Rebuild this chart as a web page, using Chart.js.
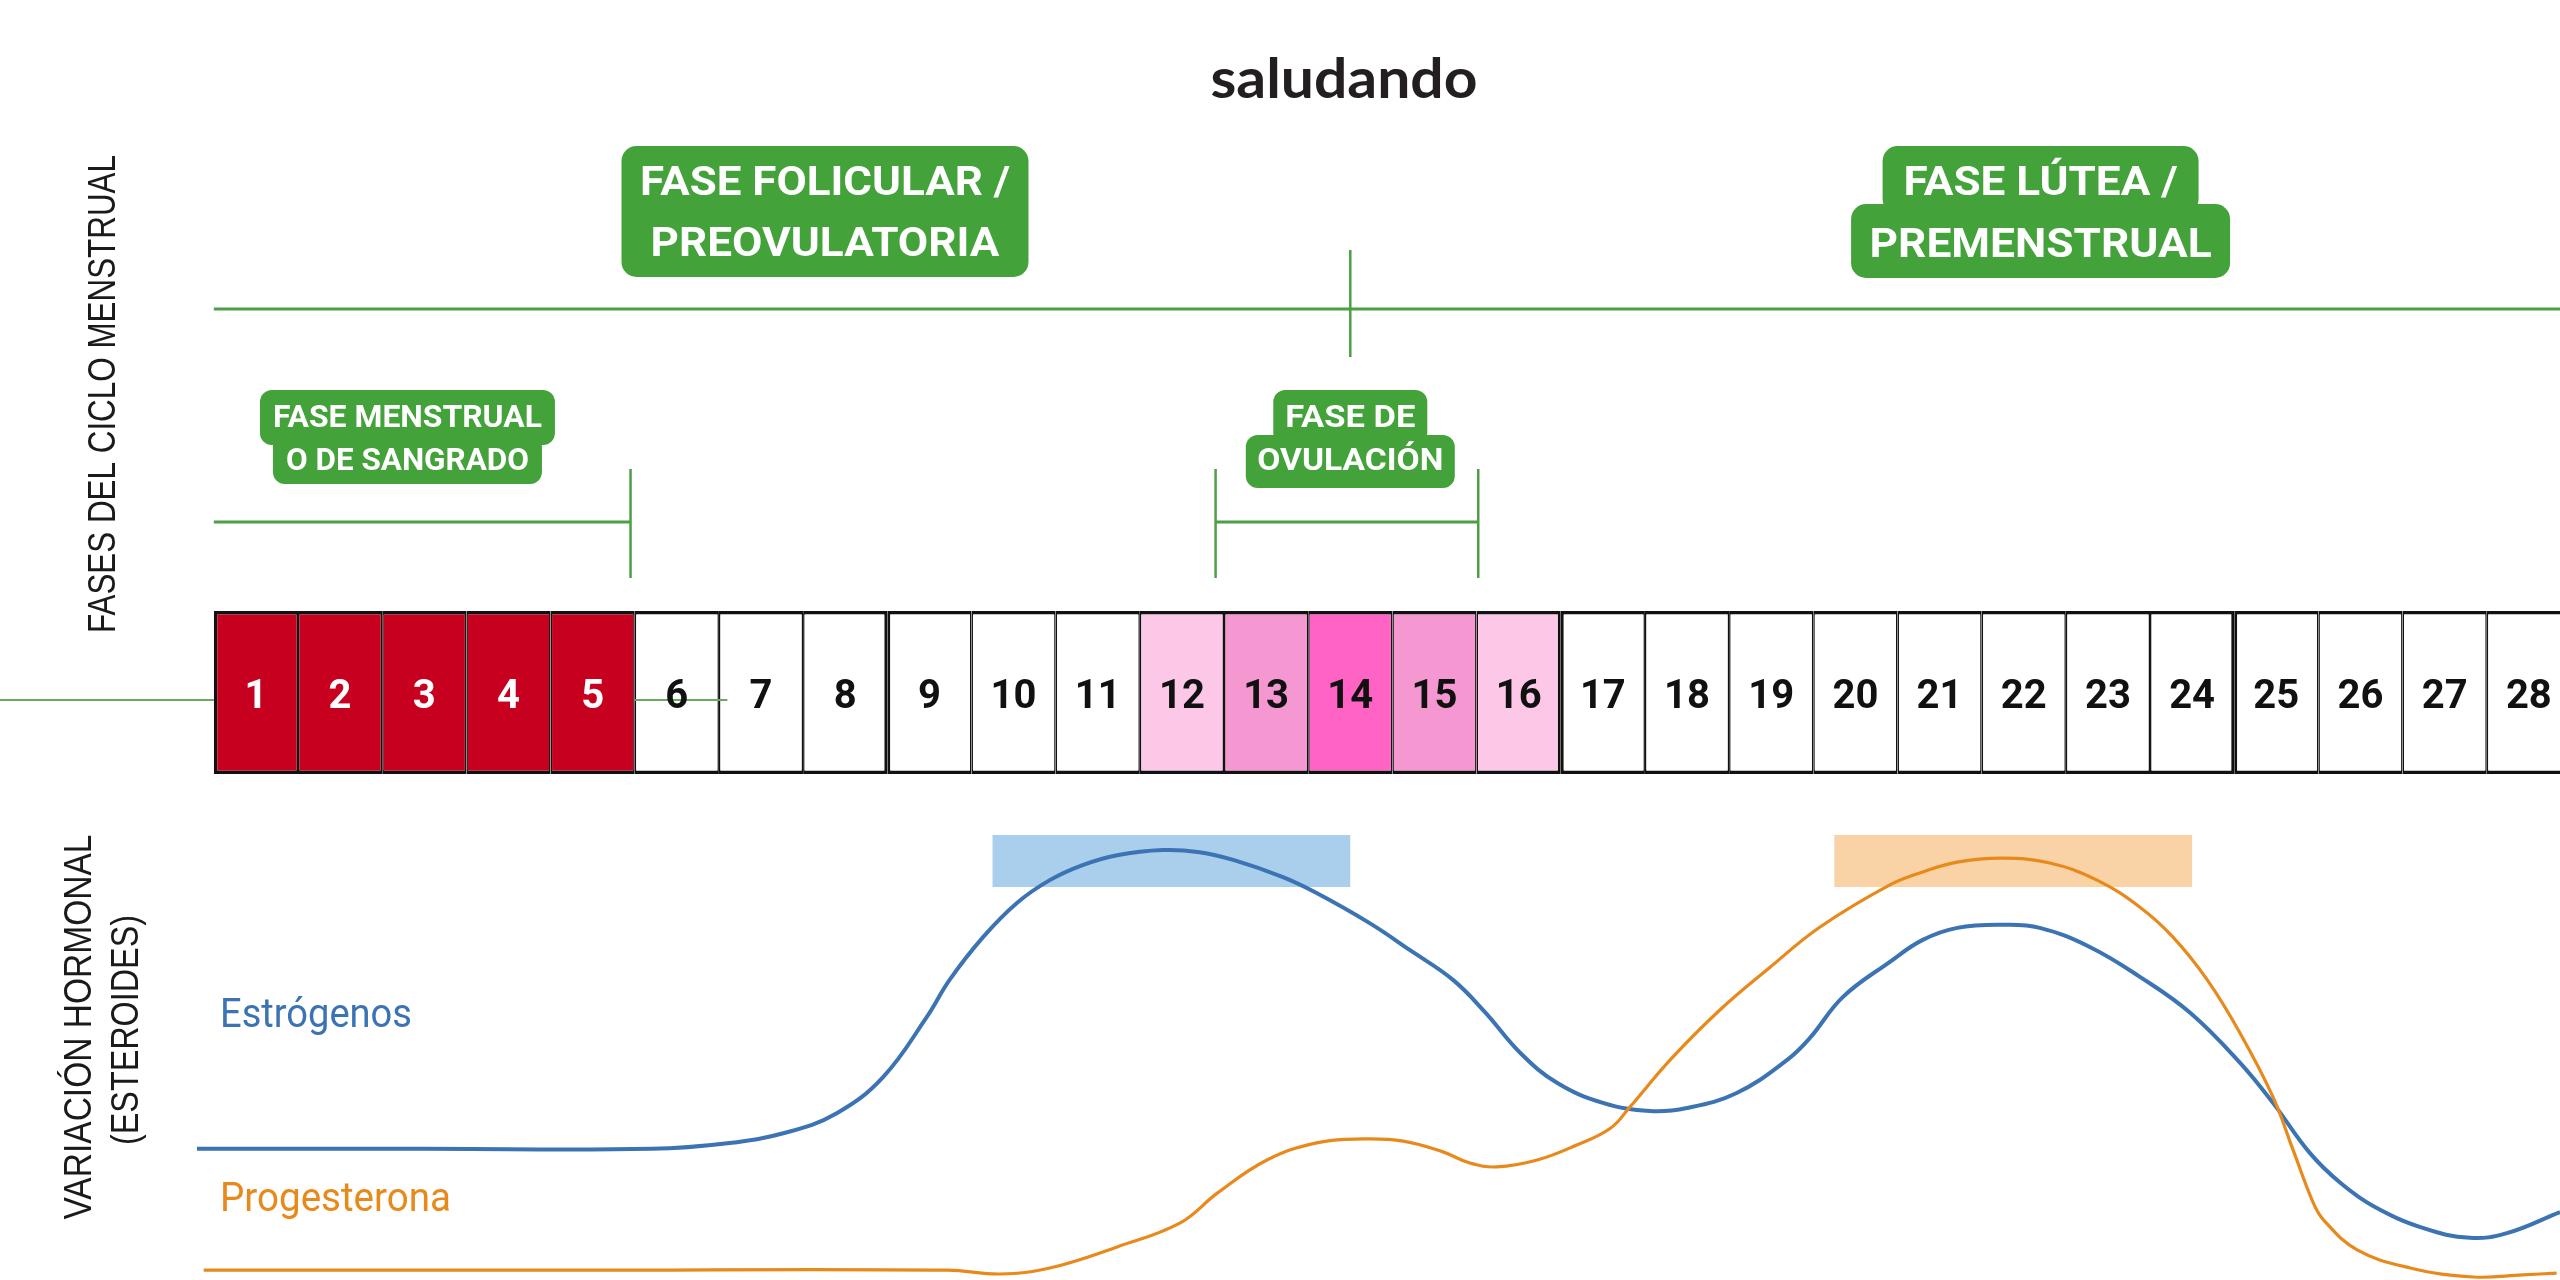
<!DOCTYPE html>
<html><head><meta charset="utf-8">
<script src="https://cdn.jsdelivr.net/npm/chart.js@4.4.1/dist/chart.umd.min.js"></script>
<style>html,body{margin:0;padding:0;background:#fff;overflow:hidden}#wrap{width:2560px;height:1280px;position:relative}</style>
</head><body><div id="wrap"><canvas id="c"></canvas></div>
<script>
// ---------- data ----------
const dayNumbers = [1,2,3,4,5,6,7,8,9,10,11,12,13,14,15,16,17,18,19,20,21,22,23,24,25,26,27,28];
const dayLabels = dayNumbers.map(String);
const dayFill = ['#c8001f','#c8001f','#c8001f','#c8001f','#c8001f','#ffffff','#ffffff','#ffffff','#ffffff','#ffffff','#ffffff',
  '#fdc8e8','#f598d2','#ff63c3','#f598d2','#fdc8e8','#ffffff','#ffffff','#ffffff','#ffffff','#ffffff','#ffffff','#ffffff','#ffffff','#ffffff','#ffffff','#ffffff','#ffffff'];
const dayTextColor = dayNumbers.map(d => d <= 5 ? '#ffffff' : '#111111');
const weekStartDays = [9, 17, 25];

const estrogenDay = [0.3, 3.0, 5.7, 6.6, 7.3, 7.9, 8.45, 8.97, 9.24, 9.64, 10.04, 10.43, 10.82, 11.23, 11.77, 12.21, 12.61, 13.2, 13.6, 14.23, 14.71, 15.22, 15.6, 16.02, 16.46, 17.0, 17.56, 18.0, 18.59, 19.19, 19.46, 19.85, 20.41, 20.8, 21.21, 21.75, 22.19, 22.79, 23.38, 23.98, 24.57, 24.96, 25.4, 25.76, 26.15, 26.74, 27.3, 27.74, 28.37];
const estrogenLevel = [30.5, 30.5, 30.5, 31.8, 34.3, 38.8, 47.2, 61.2, 69.8, 79.8, 87.7, 93.0, 96.5, 98.8, 100, 99.5, 97.7, 93.7, 90.0, 83.0, 76.7, 69.8, 62.3, 52.8, 45.8, 41.2, 39.3, 40.0, 43.5, 51.2, 56.3, 65.8, 74.0, 79.1, 81.9, 82.6, 81.9, 77.4, 70.5, 62.1, 50.5, 41.2, 29.5, 22.6, 17.2, 12.1, 9.8, 10.9, 15.8];

const progesteroneDay = [0.38, 4.8, 9.22, 9.84, 10.43, 11.23, 11.98, 12.42, 13.01, 13.6, 14.15, 14.63, 15.1, 15.42, 15.74, 16.22, 16.69, 17.09, 17.32, 17.8, 18.39, 18.99, 19.58, 20.41, 20.8, 21.21, 21.75, 22.31, 22.87, 23.38, 23.77, 24.18, 24.57, 24.96, 25.2, 25.44, 25.56, 25.96, 26.59, 27.34, 27.93, 28.33];
const progesteroneLevel = [2.3, 2.3, 2.3, 1.4, 2.8, 7.7, 13.3, 20.2, 27.9, 31.9, 32.8, 32.3, 29.8, 27.2, 26.3, 27.9, 31.4, 35.3, 40.2, 51.2, 62.8, 72.8, 82.1, 91.9, 94.9, 97.2, 98.1, 97.0, 93.0, 86.7, 79.8, 69.8, 57.4, 42.6, 30.2, 17.9, 14.0, 7.0, 2.8, 0.7, 1.2, 1.6];

const peakBandStart = [9.75, 19.75];
const peakBandEnd = [14, 24];
const peakBandLow = [91.4, 91.4];
const peakBandHigh = [103.5, 103.5];

const cycleStartDay = 0.5;
const ovulationDay = 14;
const menstrualSpan = [0.5, 5.45];
const ovulationSpan = [12.4, 15.52];
const crossLineEndDay = 6.6;

// ---------- layout / style ----------
const W = 2560, H = 1280;
const ROW_TOP = 611, ROW_BOTTOM = 774;
const GREEN = '#44a23a', LINE_GREEN = '#4d9f46';
const BLUE = '#3b73b3', ORANGE = '#e8891c';

const phaseBoxes = [
  {day: 7.76, size: 40, rects: [{w: 407, top: 146, bottom: 277}],
   lines: [{t: 'FASE FOLICULAR /', base: 195, w: 370}, {t: 'PREOVULATORIA', base: 256, w: 349}]},
  {day: 22.2, size: 40, rects: [{w: 316, top: 146, bottom: 214}, {w: 379, top: 204, bottom: 278}],
   lines: [{t: 'FASE LÚTEA /', base: 195, w: 274}, {t: 'PREMENSTRUAL', base: 257, w: 342}]},
  {day: 2.8, size: 32, rects: [{w: 295, top: 390, bottom: 445}, {w: 269, top: 435, bottom: 484}],
   lines: [{t: 'FASE MENSTRUAL', base: 427, w: 269}, {t: 'O DE SANGRADO', base: 470, w: 243}]},
  {day: 14.0, size: 32, rects: [{w: 154, top: 390, bottom: 445}, {w: 209, top: 435, bottom: 488}],
   lines: [{t: 'FASE DE', base: 427, w: 130}, {t: 'OVULACIÓN', base: 470, w: 186}]}
];

function fitText(ctx, text, x, y, font, width, color, rot, align) {
  ctx.save();
  ctx.font = font;
  ctx.fillStyle = color;
  ctx.textBaseline = 'alphabetic';
  const m = ctx.measureText(text).width;
  const s = width ? width / m : 1;
  ctx.translate(x, y);
  if (rot) ctx.rotate(rot);
  ctx.scale(s, 1);
  ctx.textAlign = align || 'center';
  ctx.fillText(text, 0, 0);
  ctx.restore();
}
function rrect(ctx, x, y, w, h, r) {
  ctx.beginPath(); ctx.roundRect(x, y, w, h, r); ctx.fill();
}
function hline(ctx, x1, x2, y, lw, col) {
  ctx.save(); ctx.strokeStyle = col; ctx.lineWidth = lw; ctx.beginPath(); ctx.moveTo(x1, y); ctx.lineTo(x2, y); ctx.stroke(); ctx.restore();
}
function vline(ctx, x, y1, y2, lw, col) {
  ctx.save(); ctx.strokeStyle = col; ctx.lineWidth = lw; ctx.beginPath(); ctx.moveTo(x, y1); ctx.lineTo(x, y2); ctx.stroke(); ctx.restore();
}

const decor = {
  id: 'decor',
  beforeDatasetsDraw(chart) {
    const ctx = chart.ctx, xs = chart.scales.x, yh = chart.scales.yh;
    const bandCol = ['#aacfec', '#f9d2a6'];
    for (let i = 0; i < peakBandStart.length; i++) {
      const x1 = xs.getPixelForValue(peakBandStart[i]), x2 = xs.getPixelForValue(peakBandEnd[i]);
      const y1 = yh.getPixelForValue(peakBandHigh[i]), y2 = yh.getPixelForValue(peakBandLow[i]);
      ctx.fillStyle = bandCol[i];
      ctx.fillRect(x1, y1, x2 - x1, y2 - y1);
    }
    fitText(ctx, 'saludando', 1344, 98, '700 55px Lato', 267, '#231f20');
    const x0 = xs.getPixelForValue(cycleStartDay);
    hline(ctx, x0, W, 309, 3, LINE_GREEN);
    const xo = xs.getPixelForValue(ovulationDay);
    vline(ctx, xo, 250, 357, 2.5, LINE_GREEN);
    const m1 = xs.getPixelForValue(menstrualSpan[0]), m2 = xs.getPixelForValue(menstrualSpan[1]);
    hline(ctx, m1, m2, 522, 3, LINE_GREEN);
    vline(ctx, m2, 469, 578, 2.5, LINE_GREEN);
    const o1 = xs.getPixelForValue(ovulationSpan[0]), o2 = xs.getPixelForValue(ovulationSpan[1]);
    hline(ctx, o1, o2, 522, 3, LINE_GREEN);
    vline(ctx, o1, 469, 578, 2.5, LINE_GREEN);
    vline(ctx, o2, 469, 578, 2.5, LINE_GREEN);
    phaseBoxes.forEach(b => {
      const cx = xs.getPixelForValue(b.day);
      ctx.fillStyle = GREEN;
      b.rects.forEach(r => rrect(ctx, cx - r.w / 2, r.top, r.w, r.bottom - r.top, b.size > 35 ? 15 : 12));
      b.lines.forEach(l => fitText(ctx, l.t, cx, l.base, '700 ' + b.size + 'px Roboto', l.w, '#ffffff'));
    });
    fitText(ctx, 'FASES DEL CICLO MENSTRUAL', 115, 394, '400 38px "Liberation Sans"', 478, '#1a1a1a', -Math.PI / 2);
    fitText(ctx, 'VARIACIÓN HORMONAL', 91, 1027, '400 38px "Liberation Sans"', 385, '#1a1a1a', -Math.PI / 2);
    fitText(ctx, '(ESTEROIDES)', 138, 1030, '400 38px "Liberation Sans"', 230, '#1a1a1a', -Math.PI / 2);
    fitText(ctx, 'Estrógenos', 220, 1027, '400 40px Roboto', 192, BLUE, 0, 'left');
    fitText(ctx, 'Progesterona', 220, 1211, '400 40px Roboto', 231, ORANGE, 0, 'left');
  },
  afterDatasetsDraw(chart) {
    const ctx = chart.ctx, xs = chart.scales.x;
    const xl = xs.getPixelForValue(cycleStartDay);
    hline(ctx, 0, xl, 700, 2, '#6aaa5e');
    hline(ctx, xs.getPixelForValue(menstrualSpan[1] + 0.05), xs.getPixelForValue(crossLineEndDay), 700, 2, '#6aaa5e');
    dayNumbers.forEach((d, i) => {
      fitText(ctx, dayLabels[i], xs.getPixelForValue(d), 708, '700 40px Roboto', 0, dayTextColor[i]);
    });
  }
};

const yrMin = -(H - ROW_BOTTOM) / (ROW_BOTTOM - ROW_TOP);
const yrMax = 1 + ROW_TOP / (ROW_BOTTOM - ROW_TOP);

new Chart(document.getElementById('c'), {
  type: 'bar',
  data: {
    datasets: [
      {
        type: 'line', label: 'Estrógenos', yAxisID: 'yh', order: 1,
        data: estrogenDay.map((x, i) => ({x, y: estrogenLevel[i]})),
        borderColor: BLUE, borderWidth: 4, pointRadius: 0, tension: 0.4, fill: false
      },
      {
        type: 'line', label: 'Progesterona', yAxisID: 'yh', order: 0,
        data: progesteroneDay.map((x, i) => ({x, y: progesteroneLevel[i]})),
        borderColor: ORANGE, borderWidth: 3.2, pointRadius: 0, tension: 0.4, fill: false
      },
      {
        type: 'bar', label: 'Días', yAxisID: 'yr', order: 2,
        data: dayNumbers.map(d => ({x: d, y: [0, 1]})),
        backgroundColor: dayFill,
        borderColor: '#111111',
        borderSkipped: false,
        inflateAmount: 0,
        borderWidth: ctx => {
          const d = dayNumbers[ctx.dataIndex];
          return {
            top: 3.5, bottom: 3.5,
            left: d === 1 ? 3.5 : (weekStartDays.includes(d) ? 3 : 1.5),
            right: weekStartDays.includes(d + 1) ? 3 : 1.5
          };
        },
        barPercentage: 1, categoryPercentage: 1
      }
    ]
  },
  options: {
    responsive: true, maintainAspectRatio: false, animation: false, devicePixelRatio: 1,
    layout: {padding: 0},
    plugins: {legend: {display: false}, title: {display: false}, tooltip: {enabled: false}},
    events: [],
    scales: {
      x: {type: 'linear', min: -2.04, max: 28.37, offset: false, display: false},
      yh: {type: 'linear', min: 0, max: 297.7, display: false},
      yr: {type: 'linear', min: yrMin, max: yrMax, display: false}
    }
  },
  plugins: [decor]
});
</script></body></html>
